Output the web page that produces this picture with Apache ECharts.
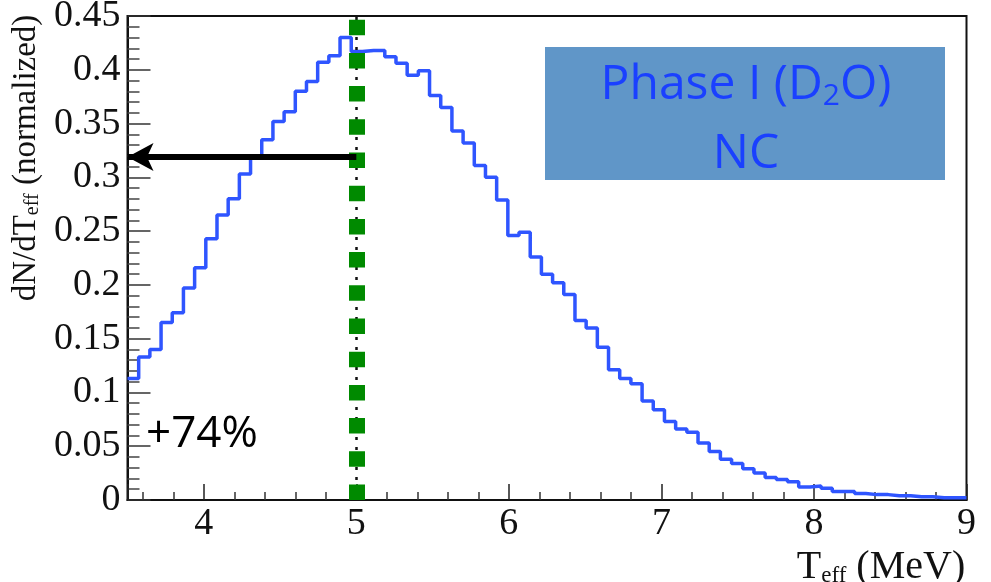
<!DOCTYPE html>
<html>
<head>
<meta charset="utf-8">
<title>Phase I (D2O) NC</title>
<script src="https://cdn.jsdelivr.net/npm/echarts@6/dist/echarts.min.js"></script>
<style>
    html, body { margin: 0; padding: 0; background: #fff; }
    #chart { width: 991px; height: 582px; }
</style>
</head>
<body>
<div id="chart"></div>
<script>
'use strict';

// histogram range (MeV) and bin contents
var binLow = 3.5;
var binHigh = 9.0;
var binCounts = [
    0.113, 0.133, 0.140, 0.165, 0.174, 0.197, 0.216, 0.243, 0.265, 0.280,
    0.303, 0.318, 0.335, 0.352, 0.361, 0.380, 0.389, 0.407, 0.413, 0.430,
    0.417, 0.418, 0.418, 0.412, 0.406, 0.395, 0.399, 0.376, 0.365, 0.343,
    0.332, 0.311, 0.300, 0.279, 0.246, 0.249, 0.226, 0.210, 0.202, 0.191,
    0.167, 0.160, 0.142, 0.121, 0.113, 0.108, 0.092, 0.084, 0.073, 0.066,
    0.063, 0.053, 0.045, 0.038, 0.034, 0.029, 0.025, 0.021, 0.019, 0.017,
    0.012, 0.013, 0.011, 0.008, 0.008, 0.006, 0.005, 0.005, 0.004, 0.004,
    0.003, 0.003, 0.002, 0.002, 0.002
];

// threshold marker and the arrow pointing at the y axis
var thresholdEnergy = 5.0;
var arrowLevel = 0.319;

// axes
var xRange = [3.5, 9];
var yRange = [0, 0.45];
var yStep = 0.05;

// annotations
var boxLines = ['Phase I (D{sub|2}O)', 'NC'];
var gainText = '+74%';
var xTitle = 'T{sub|eff} (MeV)';
var yTitle = 'dN/dT{sub|eff} (normalized)';

var serif = '"Liberation Serif", "Times New Roman", serif';
var sans = '"Open Sans", "Noto Sans", sans-serif';

function buildSteps() {
    var width = (binHigh - binLow) / binCounts.length;
    var pts = [];
    for (var i = 0; i < binCounts.length; i++) {
        pts.push([binLow + i * width, binCounts[i]]);
    }
    pts.push([binHigh, binCounts[binCounts.length - 1]]);
    return pts;
}

function markOnly(z, line) {
    return {
        type: 'line',
        data: [],
        z: z,
        silent: true,
        markLine: line
    };
}

var chart = echarts.init(document.getElementById('chart'), null, { renderer: 'canvas' });

var option = {
    animation: false,
    backgroundColor: '#fff',
    grid: {
        left: 127.5,
        right: 24.5,
        top: 16,
        bottom: 82,
        show: true,
        borderColor: '#111',
        borderWidth: 2,
        containLabel: false,
        outerBoundsMode: 'none'
    },
    xAxis: {
        type: 'value',
        min: xRange[0],
        max: xRange[1],
        splitNumber: 5,
        name: xTitle,
        nameLocation: 'middle',
        nameGap: 26,
        nameTextStyle: {
            fontFamily: serif,
            fontSize: 40,
            lineHeight: 40,
            color: '#111',
            padding: [0, 0, 0, 668],
            rich: {
                sub: { fontFamily: serif, fontSize: 23, lineHeight: 2, verticalAlign: 'bottom', color: '#111' }
            }
        },
        axisLine: { lineStyle: { color: '#111', width: 2 } },
        axisTick: { inside: true, length: 16, lineStyle: { color: '#222', width: 1.5 } },
        minorTick: { show: true, splitNumber: 5, length: 8, lineStyle: { color: '#333', width: 1.5 } },
        splitLine: { show: false },
        axisLabel: {
            showMinLabel: false,
            showMaxLabel: true,
            margin: 5,
            fontFamily: serif,
            fontSize: 38,
            color: '#111'
        }
    },
    yAxis: {
        type: 'value',
        min: yRange[0],
        max: yRange[1],
        interval: yStep,
        name: yTitle,
        nameLocation: 'middle',
        nameRotate: 90,
        nameGap: 80,
        nameTextStyle: {
            fontFamily: serif,
            fontSize: 33,
            lineHeight: 33,
            color: '#111',
            padding: [0, 0, 0, 200],
            rich: {
                sub: { fontFamily: serif, fontSize: 20, lineHeight: 2, verticalAlign: 'bottom', color: '#111' }
            }
        },
        axisLine: { lineStyle: { color: '#111', width: 2 } },
        axisTick: { inside: true, length: 23, lineStyle: { color: '#333', width: 1.5 } },
        minorTick: { show: true, splitNumber: 5, length: 12, lineStyle: { color: '#444', width: 1.5 } },
        splitLine: { show: false },
        axisLabel: {
            margin: 7,
            fontFamily: serif,
            fontSize: 38,
            color: '#111'
        }
    },
    series: [
        {
            type: 'line',
            step: 'end',
            data: buildSteps(),
            showSymbol: false,
            symbol: 'none',
            silent: true,
            z: 2,
            lineStyle: { color: '#2f55ff', width: 3.5 }
        },
        markOnly(3, {
            symbol: 'none',
            silent: true,
            label: { show: false },
            lineStyle: { color: '#111', width: 2.5, type: [3, 7] },
            data: [[{ coord: [thresholdEnergy, yRange[0]] }, { coord: [thresholdEnergy, yRange[1]] }]]
        }),
        markOnly(4, {
            symbol: 'none',
            silent: true,
            label: { show: false },
            lineStyle: { color: '#008a00', width: 16, type: [15.5, 17.7], cap: 'butt' },
            data: [[{ coord: [thresholdEnergy, yRange[0]] }, { coord: [thresholdEnergy, yRange[1]] }]]
        }),
        markOnly(5, {
            symbol: ['none', 'arrow'],
            symbolSize: [21, 26],
            silent: true,
            label: { show: false },
            lineStyle: { color: '#000', width: 6, type: 'solid' },
            data: [[{ coord: [thresholdEnergy, arrowLevel] }, { coord: [xRange[0], arrowLevel] }]]
        })
    ],
    graphic: [
        {
            type: 'rect',
            left: 545,
            top: 47,
            shape: { width: 400, height: 133 },
            style: { fill: '#6096c8' },
            z: 10
        },
        {
            type: 'text',
            x: 746,
            y: 85,
            z: 11,
            style: {
                text: boxLines[0],
                fontFamily: sans,
                fontSize: 48,
                lineHeight: 52,
                fill: '#1a40ff',
                align: 'center',
                verticalAlign: 'middle',
                rich: {
                    sub: { fontFamily: sans, fontSize: 30, lineHeight: 14, verticalAlign: 'bottom', fill: '#1a40ff' }
                }
            }
        },
        {
            type: 'text',
            x: 746,
            y: 154,
            z: 11,
            style: {
                text: boxLines[1],
                fontFamily: sans,
                fontSize: 48,
                fill: '#1a40ff',
                align: 'center',
                verticalAlign: 'middle'
            }
        },
        {
            type: 'text',
            x: 146,
            y: 434,
            z: 11,
            style: {
                text: gainText,
                fontFamily: sans,
                fontSize: 44,
                fill: '#000',
                align: 'left',
                verticalAlign: 'middle'
            }
        }
    ]
};

chart.setOption(option);
</script>
</body>
</html>
